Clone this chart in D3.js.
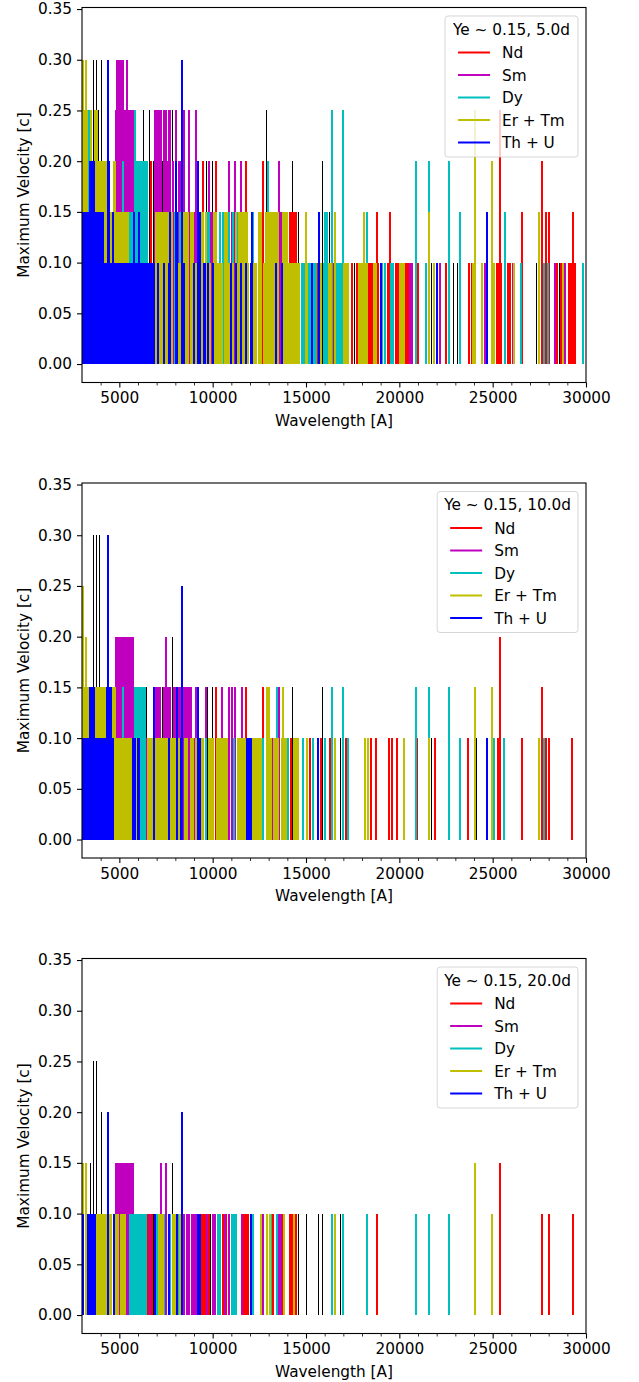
<!DOCTYPE html>
<html>
<head>
<meta charset="utf-8">
<script src="https://cdn.jsdelivr.net/npm/d3@7"></script>
<style>
  body { margin: 0; background: #fff; }
  svg { display: block; }
  text { font-family: "DejaVu Sans", sans-serif; fill: #000; }
</style>
</head>
<body>
<svg id="fig" width="639" height="1382"></svg>
<script>
// Species drawn on top of the black "other elements" lines, in legend order.
const speciesNames = ["Nd", "Sm", "Dy", "Er + Tm", "Th + U"];
const speciesColors = ["#ff0000", "#bf00bf", "#00bfbf", "#bfbf00", "#0000ff"];
const otherColor = "#000000";
const epochTitles = ["Ye ~ 0.15, 5.0d", "Ye ~ 0.15, 10.0d", "Ye ~ 0.15, 20.0d"];
const xMajorTicks = [5000, 10000, 15000, 20000, 25000, 30000];
const yTicks = [0.00, 0.05, 0.10, 0.15, 0.20, 0.25, 0.30, 0.35];

// Each line: [wavelength in Angstrom, maximum velocity in c]

// ---- 5.0 days ----
const other5 = [
  [3590,0.30],[3800,0.30],[4020,0.30],
  [3110,0.25],[3910,0.25],[6270,0.25],[6590,0.25],[7830,0.25],[12860,0.25],
  [6810,0.20],[7290,0.20],[9650,0.20],[9970,0.20],[14260,0.20],[15860,0.20],
  [14580,0.15],[16240,0.15],
  [17580,0.10],[21710,0.10],[22890,0.10],[23100,0.10],[24060,0.10],[27330,0.10],[28570,0.10]
];
const nd5 = [
  [25400,0.25],
  [6700,0.20],[9480,0.20],[10180,0.20],[11790,0.20],[12700,0.20],[27660,0.20],
  [14150,0.15],[14260,0.15],[14360,0.15],[14470,0.15],[18810,0.15],[19510,0.15],[26580,0.15],[27870,0.15],[28030,0.15],[29320,0.15],
  [15650,0.10],[16510,0.10],[17200,0.10],[17470,0.10],[17740,0.10],[18340,0.10],[18440,0.10],[18540,0.10],[18860,0.10],
  [19400,0.10],[19830,0.10],[19940,0.10],[20370,0.10],[20470,0.10],[21010,0.10],[22510,0.10],[23740,0.10],[23900,0.10],
  [25240,0.10],[25350,0.10],[25460,0.10],[25830,0.10],[25940,0.10],[28460,0.10],[28680,0.10],[29100,0.10],[29210,0.10],[29420,0.10]
];
const sm5 = [
  [4880,0.30],[4980,0.30],[5090,0.30],[5200,0.30],[5410,0.30],
  [4820,0.25],[5040,0.25],[5300,0.25],[5470,0.25],[5520,0.25],[5630,0.25],[5730,0.25],
  [6890,0.25],[7000,0.25],[7130,0.25],[7240,0.25],[7400,0.25],[7500,0.25],[7660,0.25],[7740,0.25],
  [8040,0.25],[8470,0.25],[8740,0.25],[9110,0.25],
  [5250,0.20],[7070,0.20],[7580,0.20],[7880,0.20],[8200,0.20],[8300,0.20],[8410,0.20],
  [9800,0.20],[10880,0.20],[11210,0.20],[11520,0.20],[13560,0.20],
  [6430,0.15],[9000,0.15],[9860,0.15],[9970,0.15],[11040,0.15],[13240,0.15],[13670,0.15],
  [20580,0.10],[20690,0.10],[22190,0.10],[24600,0.10],[26100,0.10],[28350,0.10],[28890,0.10]
];
const dy5 = [
  [3400,0.25],[5840,0.25],[16400,0.25],[16990,0.25],
  [5170,0.20],[5890,0.20],[6000,0.20],[6110,0.20],[6220,0.20],[6320,0.20],[6430,0.20],[6480,0.20],
  [12970,0.20],[20900,0.20],[21600,0.20],[22670,0.20],
  [5520,0.15],[5630,0.15],[5730,0.15],[5950,0.15],[6160,0.15],[6270,0.15],[6380,0.15],[7990,0.15],[8250,0.15],
  [9700,0.15],[9810,0.15],[10400,0.15],[10560,0.15],[10880,0.15],[11100,0.15],[11360,0.15],[12160,0.15],
  [16020,0.15],[16130,0.15],[18280,0.15],[23260,0.15],[25670,0.15],
  [14790,0.10],[14900,0.10],[15010,0.10],[15110,0.10],[15220,0.10],[15430,0.10],[15540,0.10],[15970,0.10],
  [16670,0.10],[16780,0.10],[16880,0.10],[19080,0.10],[19240,0.10],[19560,0.10],[19670,0.10],[21440,0.10],
  [26500,0.10],[27760,0.10],[27980,0.10],[29850,0.10]
];
const ertm5 = [
  [3050,0.30],[3210,0.30],
  [3110,0.25],[3270,0.25],[3480,0.25],[3700,0.25],[3800,0.25],[24060,0.25],
  [3750,0.20],[3860,0.20],[3960,0.20],[4070,0.20],[4180,0.20],[4290,0.20],[4720,0.20],[4770,0.20],[24980,0.20],
  [4340,0.15],[4450,0.15],[4550,0.15],[4720,0.15],[4820,0.15],[4930,0.15],[5040,0.15],[5140,0.15],[5250,0.15],[5360,0.15],[5470,0.15],
  [6970,0.15],[7070,0.15],[7180,0.15],[7290,0.15],[7400,0.15],[7500,0.15],[7610,0.15],[7720,0.15],[7830,0.15],
  [8470,0.15],[8580,0.15],[8680,0.15],[8840,0.15],[8950,0.15],[9380,0.15],[9480,0.15],[9650,0.15],[10070,0.15],[10180,0.15],
  [10660,0.15],[10770,0.15],[11260,0.15],[11420,0.15],[11520,0.15],[11630,0.15],[11740,0.15],[11840,0.15],[12490,0.15],[12600,0.15],
  [12860,0.15],[12970,0.15],[13080,0.15],[13180,0.15],[13290,0.15],[13400,0.15],[13510,0.15],[13770,0.15],[13880,0.15],[13990,0.15],
  [15010,0.15],[16560,0.15],[18110,0.15],[21600,0.15],[27500,0.15],
  [8200,0.10],[8300,0.10],[8410,0.10],[9110,0.10],[9860,0.10],[10290,0.10],[10400,0.10],[10500,0.10],[10880,0.10],[11100,0.10],
  [11360,0.10],[11900,0.10],[12220,0.10],[12330,0.10],[12760,0.10],[13240,0.10],[14100,0.10],[14200,0.10],[14310,0.10],[14420,0.10],
  [14530,0.10],[14630,0.10],[15060,0.10],[15810,0.10],[16240,0.10],[16350,0.10],[17040,0.10],[17150,0.10],[17260,0.10],[17850,0.10],
  [17960,0.10],[18070,0.10],[18170,0.10],[18280,0.10],[18650,0.10],[18760,0.10],[20040,0.10],[20150,0.10],[20260,0.10],[21870,0.10],
  [23950,0.10],[24440,0.10],[25090,0.10],[26150,0.10],[28780,0.10]
];
const thu5 = [
  [4390,0.30],[8360,0.30],
  [3430,0.20],[3540,0.20],[3640,0.20],[4450,0.20],[8040,0.20],[9220,0.20],
  [3050,0.15],[3160,0.15],[3270,0.15],[3380,0.15],[3480,0.15],[3590,0.15],[3700,0.15],[3800,0.15],[3860,0.15],[3960,0.15],
  [4070,0.15],[4130,0.15],[4640,0.15],[5790,0.15],[6080,0.15],[7690,0.15],[8100,0.15],[9320,0.15],[12110,0.15],[15700,0.15],[24710,0.15],
  [3110,0.10],[3210,0.10],[3320,0.10],[3430,0.10],[3540,0.10],[3640,0.10],[3750,0.10],[3860,0.10],[3960,0.10],[4070,0.10],
  [4180,0.10],[4290,0.10],[4390,0.10],[4500,0.10],[4610,0.10],[4720,0.10],[4820,0.10],[4930,0.10],[5040,0.10],[5140,0.10],
  [5250,0.10],[5360,0.10],[5470,0.10],[5570,0.10],[5680,0.10],[5790,0.10],[5890,0.10],[6000,0.10],[6110,0.10],[6220,0.10],
  [6320,0.10],[6430,0.10],[6540,0.10],[6640,0.10],[6750,0.10],[6860,0.10],
  [7070,0.10],[7400,0.10],[7660,0.10],[8470,0.10],[9000,0.10],[9200,0.10],[9540,0.10],[9600,0.10],[9750,0.10],[10020,0.10],
  [11000,0.10],[11260,0.10],[11520,0.10],[11790,0.10],[12050,0.10],[13400,0.10],[13720,0.10],[15330,0.10],[19020,0.10],[22030,0.10]
];

// ---- 10.0 days ----
const other10 = [
  [3590,0.30],[3800,0.30],[3960,0.30],
  [7830,0.20],
  [6480,0.15],[7290,0.15],[9700,0.15],[9970,0.15],[14260,0.15],[15860,0.15],
  [16240,0.10],[16830,0.10],[18440,0.10],[21710,0.10],[24110,0.10]
];
const nd10 = [
  [25400,0.20],
  [10180,0.15],[11790,0.15],[12700,0.15],[27660,0.15],
  [14200,0.10],[15220,0.10],[15810,0.10],[16290,0.10],[17150,0.10],[18490,0.10],[18760,0.10],[19460,0.10],[19620,0.10],
  [19880,0.10],[20960,0.10],[21920,0.10],[23690,0.10],[25290,0.10],[26580,0.10],[27870,0.10],[28030,0.10],[29270,0.10]
];
const sm10 = [
  [4820,0.20],[4930,0.20],[5040,0.20],[5140,0.20],[5250,0.20],[5360,0.20],[5470,0.20],[5520,0.20],[5630,0.20],[5730,0.20],[7500,0.20],
  [6970,0.15],[7070,0.15],[7180,0.15],[7400,0.15],[7610,0.15],[7720,0.15],[7930,0.15],[8040,0.15],[8200,0.15],[8300,0.15],
  [8410,0.15],[8520,0.15],[8630,0.15],[8740,0.15],[8840,0.15],[9110,0.15],[9650,0.15],[10500,0.15],[10880,0.15],[11040,0.15],
  [11210,0.15],[11580,0.15],[13560,0.15],
  [6430,0.10],[9000,0.10],[13180,0.10]
];
const dy10 = [
  [5200,0.15],[5840,0.15],[5950,0.15],[6060,0.15],[6160,0.15],[6270,0.15],[6380,0.15],[13450,0.15],[16400,0.15],[16990,0.15],
  [20900,0.15],[21600,0.15],[22670,0.15],
  [9650,0.10],[11150,0.10],[12700,0.10],[14040,0.10],[14850,0.10],[15380,0.10],[16020,0.10],[17260,0.10],[23260,0.10],
  [25090,0.10],[25620,0.10],[27760,0.10]
];
const ertm10 = [
  [3050,0.25],[3210,0.20],
  [3110,0.15],[3160,0.15],[3270,0.15],[3320,0.15],[3750,0.15],[3860,0.15],[3960,0.15],[4070,0.15],[4180,0.15],[4290,0.15],
  [4660,0.15],[4770,0.15],[12920,0.15],[13030,0.15],[13770,0.15],[24060,0.15],[24980,0.15],
  [4880,0.10],[4980,0.10],[5090,0.10],[5200,0.10],[5300,0.10],[5410,0.10],[5520,0.10],[5630,0.10],[5680,0.10],[5890,0.10],
  [6540,0.10],[6640,0.10],[6750,0.10],[6970,0.10],[7070,0.10],[7180,0.10],[7290,0.10],[7400,0.10],[7500,0.10],[7610,0.10],
  [7770,0.10],[7880,0.10],[7990,0.10],[8150,0.10],[8250,0.10],[8520,0.10],[8630,0.10],[8840,0.10],[8950,0.10],[9110,0.10],
  [9380,0.10],[9490,0.10],[9810,0.10],[9920,0.10],[10020,0.10],[10240,0.10],[10340,0.10],[10450,0.10],[10560,0.10],[10670,0.10],
  [10770,0.10],[11360,0.10],[11470,0.10],[11580,0.10],[11680,0.10],[11790,0.10],[12160,0.10],[12270,0.10],[12380,0.10],[12490,0.10],
  [12600,0.10],[13130,0.10],[13290,0.10],[13400,0.10],[13510,0.10],[13720,0.10],[13830,0.10],[13940,0.10],[14360,0.10],[14470,0.10],
  [14580,0.10],[15060,0.10],[16560,0.10],[18140,0.10],[18310,0.10],[20230,0.10],[21600,0.10],[27500,0.10]
];
const thu10 = [
  [4390,0.30],[8360,0.25],
  [3430,0.15],[3540,0.15],[3640,0.15],[4340,0.15],[4450,0.15],[4550,0.15],[6860,0.15],[8100,0.15],[9220,0.15],
  [3050,0.10],[3160,0.10],[3270,0.10],[3380,0.10],[3480,0.10],[3590,0.10],[3700,0.10],[3800,0.10],[3910,0.10],[4020,0.10],
  [4130,0.10],[4230,0.10],[4340,0.10],[4450,0.10],[4550,0.10],[4660,0.10],[5730,0.10],[5840,0.10],[6000,0.10],[6060,0.10],
  [6860,0.10],[7660,0.10],[8100,0.10],[8300,0.10],[9220,0.10],[9320,0.10],[11850,0.10],[11950,0.10],[12060,0.10],[15650,0.10],[24710,0.10]
];

// ---- 20.0 days ----
const other20 = [
  [3590,0.25],[3750,0.25],
  [4020,0.20],
  [3430,0.15],[7830,0.15],
  [6810,0.10],[9860,0.10],[12860,0.10],[14580,0.10],[15010,0.10],[15650,0.10],[15860,0.10],[16830,0.10]
];
const nd20 = [
  [25400,0.15],
  [6540,0.10],[6750,0.10],[9380,0.10],[9490,0.10],[9600,0.10],[9810,0.10],[10560,0.10],[10720,0.10],[11680,0.10],[11790,0.10],
  [11900,0.10],[13210,0.10],[13720,0.10],[14150,0.10],[14260,0.10],[14470,0.10],[18810,0.10],[27660,0.10],[28030,0.10],[29320,0.10]
];
const sm20 = [
  [4820,0.15],[4930,0.15],[5040,0.15],[5140,0.15],[5250,0.15],[5360,0.15],[5470,0.15],[5520,0.15],[5630,0.15],[5730,0.15],
  [7240,0.15],[7500,0.15],
  [6640,0.10],[7070,0.10],[8470,0.10],[8630,0.10],[8740,0.10],[8900,0.10],[9000,0.10],[9110,0.10],[9700,0.10],[10020,0.10],
  [10130,0.10],[10670,0.10],[10880,0.10],[11580,0.10],[12700,0.10],[13560,0.10],[13670,0.10]
];
const dy20 = [
  [5570,0.10],[5680,0.10],[5790,0.10],[5890,0.10],[6000,0.10],[6110,0.10],[6220,0.10],[6320,0.10],[6430,0.10],[7020,0.10],
  [7400,0.10],[7720,0.10],[8150,0.10],[10290,0.10],[10400,0.10],[11040,0.10],[11150,0.10],[11260,0.10],[12160,0.10],[13130,0.10],
  [13450,0.10],[16400,0.10],[16990,0.10],[18280,0.10],[20900,0.10],[21600,0.10],[22670,0.10]
];
const ertm20 = [
  [3050,0.15],[3210,0.15],[24060,0.15],
  [3750,0.10],[3860,0.10],[3960,0.10],[4070,0.10],[4180,0.10],[4290,0.10],[4340,0.10],[4500,0.10],[4550,0.10],[4770,0.10],
  [4880,0.10],[4950,0.10],[5090,0.10],[5200,0.10],[5300,0.10],[7130,0.10],[7240,0.10],[7350,0.10],[7880,0.10],[7990,0.10],
  [8250,0.10],[12600,0.10],[12920,0.10],[13080,0.10],[13830,0.10],[14340,0.10],[16560,0.10],[24980,0.10]
];
const thu20 = [
  [4390,0.20],[8360,0.20],
  [3080,0.10],[3320,0.10],[3430,0.10],[3540,0.10],[3640,0.10],[3720,0.10],[4690,0.10],[6890,0.10],[7640,0.10],[8070,0.10],
  [9220,0.10],[9320,0.10],[12060,0.10]
];

const panels = [
  { title: epochTitles[0], other: other5,  groups: [nd5, sm5, dy5, ertm5, thu5] },
  { title: epochTitles[1], other: other10, groups: [nd10, sm10, dy10, ertm10, thu10] },
  { title: epochTitles[2], other: other20, groups: [nd20, sm20, dy20, ertm20, thu20] }
];

// ---- layout ----
const svg = d3.select("#fig");
const axLeft = 82, axRight = 586, axHeight = 375;
const axTops = [7.5, 483, 958.5];
const fontSize = 15.3;

const x = d3.scaleLinear().domain([3000, 30000]).range([axLeft, axRight]);

panels.forEach((p, i) => {
  const top = axTops[i], bottom = top + axHeight;
  const y = d3.scaleLinear().domain([-0.0182, 0.3515]).range([bottom, top]);
  const g = svg.append("g");

  const clipId = "clip" + i;
  g.append("clipPath").attr("id", clipId)
    .append("rect").attr("x", axLeft).attr("y", top).attr("width", axRight - axLeft).attr("height", axHeight);
  const marks = g.append("g").attr("clip-path", `url(#${clipId})`);

  // other elements first, in black
  marks.append("g").selectAll("line").data(p.other).join("line")
    .attr("x1", d => x(d[0])).attr("x2", d => x(d[0]))
    .attr("y1", y(0)).attr("y2", d => y(d[1]))
    .attr("stroke", otherColor).attr("stroke-width", 1)
    .attr("shape-rendering", "crispEdges");

  // highlighted species in legend order
  p.groups.forEach((lines, k) => {
    marks.append("g").selectAll("line").data(lines).join("line")
      .attr("x1", d => x(d[0])).attr("x2", d => x(d[0]))
      .attr("y1", y(0)).attr("y2", d => y(d[1]))
      .attr("stroke", speciesColors[k]).attr("stroke-width", 2)
      .attr("shape-rendering", "crispEdges");
  });

  // axes
  const yAxis = g.append("g").attr("transform", `translate(${axLeft},0)`)
    .call(d3.axisLeft(y).tickValues(yTicks).tickFormat(d3.format(".2f")).tickSize(5).tickPadding(5));
  const xAxis = g.append("g").attr("transform", `translate(0,${bottom})`)
    .call(d3.axisBottom(x).tickValues(xMajorTicks).tickFormat(d3.format("d")).tickSize(5).tickPadding(5));
  const minor = d3.range(4000, 30000, 1000).filter(v => v % 5000 !== 0);
  g.append("g").attr("transform", `translate(0,${bottom})`)
    .call(d3.axisBottom(x).tickValues(minor).tickFormat("").tickSize(3))
    .call(a => a.select(".domain").remove())
    .selectAll("line").attr("stroke-width", 0.8);
  [yAxis, xAxis].forEach(a => {
    a.select(".domain").remove();
    a.selectAll("line").attr("stroke-width", 1.1);
    a.selectAll("text").attr("font-size", fontSize).attr("font-family", "DejaVu Sans");
  });

  // frame
  g.append("rect").attr("x", axLeft).attr("y", top).attr("width", axRight - axLeft).attr("height", axHeight)
    .attr("fill", "none").attr("stroke", "#000").attr("stroke-width", 1.1);

  // axis titles
  g.append("text").attr("x", (axLeft + axRight) / 2).attr("y", bottom + 43)
    .attr("text-anchor", "middle").attr("font-size", fontSize).text("Wavelength [A]");
  g.append("text").attr("transform", `translate(28.5,${(top + bottom) / 2}) rotate(-90)`)
    .attr("text-anchor", "middle").attr("font-size", fontSize).text("Maximum Velocity [c]");

  // legend
  const leg = g.append("g");
  const box = leg.append("rect");
  const title = leg.append("text").attr("font-size", fontSize).attr("text-anchor", "middle").text(p.title);
  const titleW = title.node().getComputedTextLength();
  const boxW = Math.max(titleW + 14, 133);
  const boxX = axRight - 8 - boxW, boxY = top + 8.5, boxH = 141;
  box.attr("x", boxX).attr("y", boxY).attr("width", boxW).attr("height", boxH)
    .attr("rx", 3).attr("fill", "#fff").attr("fill-opacity", 0.8)
    .attr("stroke", "#cccccc").attr("stroke-opacity", 0.8).attr("stroke-width", 1);
  title.attr("x", boxX + boxW / 2).attr("y", boxY + 18.5);
  speciesNames.forEach((name, k) => {
    const cy = boxY + 36.5 + k * 22.5;
    leg.append("line").attr("x1", boxX + 13).attr("x2", boxX + 45).attr("y1", cy).attr("y2", cy)
      .attr("stroke", speciesColors[k]).attr("stroke-width", 2);
    leg.append("text").attr("x", boxX + 57).attr("y", cy + 5.5).attr("font-size", fontSize).text(name);
  });
});
</script>
</body>
</html>
